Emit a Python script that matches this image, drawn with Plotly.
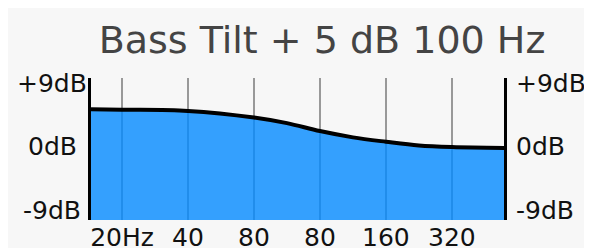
import plotly.graph_objects as go

# ---- data ----
TITLE = "Bass Tilt + 5 dB 100 Hz"
x_pos = [-0.47, 0, 1, 2, 2.5, 3, 3.5, 4, 4.5, 5, 5.79]
gain_db = [5.29, 5.22, 5.05, 4.12, 3.32, 2.19, 1.30, 0.68, 0.15, -0.08, -0.21]
tick_pos = [0, 1, 2, 3, 4, 5]
tick_text = ["20Hz", "40", "80", "80", "160", "320"]
y_ticks = [9, 0, -9]
y_tick_text = ["+9dB", "0dB", "-9dB"]
Y_RANGE = [-10.41, 9.71]
X_RANGE = [-0.47, 5.79]

W, H = 592, 248
L, R, T, B = 83, 96, 70, 36
pw, ph = W - L - R, H - T - B

fig = go.Figure()
# baseline for fill (axis minimum)
fig.add_trace(go.Scatter(x=x_pos, y=[Y_RANGE[0]] * len(x_pos), mode="lines",
                         line=dict(width=0, color="rgba(0,0,0,0)"),
                         hoverinfo="skip", showlegend=False))
fig.add_trace(go.Scatter(x=x_pos, y=gain_db, mode="lines",
                         line=dict(color="#000000", width=4, shape="spline", smoothing=1.0),
                         fill="tonexty", fillcolor="rgba(2,138,255,0.8)",
                         showlegend=False))
# invisible trace on right axis so it renders
fig.add_trace(go.Scatter(x=[x_pos[0]], y=[0], yaxis="y2", mode="markers",
                         marker=dict(opacity=0), showlegend=False, hoverinfo="skip"))

font_lbl = dict(family="DejaVu Sans", size=25, color="#111111")

# left-side labels, centred as in the reference
for v, t in zip(y_ticks, y_tick_text):
    fig.add_annotation(x=(44 - L) / pw, xref="paper", y=v, yref="y", text=t,
                       showarrow=False, xanchor="center", yanchor="middle",
                       font=font_lbl)

fig.update_layout(
    template="none",
    width=W, height=H,
    margin=dict(l=L, r=R, t=T, b=B, pad=0, autoexpand=False),
    paper_bgcolor="#f7f7f7", plot_bgcolor="#f7f7f7",
    title=dict(text=TITLE, x=314 / W, xref="container", xanchor="center",
               y=1 - 32 / H, yref="container", yanchor="middle",
               font=dict(family="DejaVu Sans", size=38, color="#444444")),
    xaxis=dict(range=X_RANGE, tickmode="array", tickvals=tick_pos, ticktext=tick_text,
               showgrid=True, gridcolor="#999999", gridwidth=2, zeroline=False,
               showline=False, ticks="", tickfont=font_lbl, fixedrange=True,
               automargin=False),
    yaxis=dict(range=Y_RANGE, tickmode="array", tickvals=y_ticks,
               showticklabels=False,
               showgrid=False, zeroline=False, showline=True, linecolor="#000000",
               linewidth=3, mirror=True, ticks="", fixedrange=True, automargin=False),
    yaxis2=dict(range=Y_RANGE, overlaying="y", side="right", tickmode="array",
                tickvals=y_ticks, ticktext=y_tick_text, showgrid=False, zeroline=False,
                showline=False, ticks="", tickfont=font_lbl, fixedrange=True,
                ticklabelstandoff=11, automargin=False),
)

fig.write_html("out.html")
